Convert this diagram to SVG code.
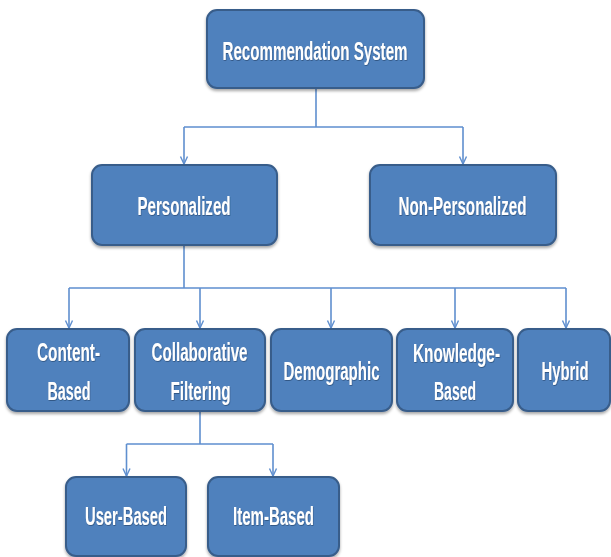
<svg xmlns="http://www.w3.org/2000/svg" width="611" height="557" viewBox="0 0 611 557">
<defs>
<style>
.box{fill:#4F81BD;stroke:#385D8A;stroke-width:2}
.lbl{font-family:"Liberation Sans",Arial,sans-serif;font-weight:bold;font-size:16px;fill:#FFFFFF;text-anchor:middle}
.con{fill:none;stroke:#5F8FCF;stroke-width:1.6}
</style>
<filter id="sh" x="-10%" y="-10%" width="120%" height="130%">
<feDropShadow dx="0" dy="2" stdDeviation="1.5" flood-color="#000" flood-opacity="0.35"/>
</filter>
<filter id="tsh" x="-10%" y="-20%" width="120%" height="150%">
<feDropShadow dx="0.5" dy="0.6" stdDeviation="0.4" flood-color="#1F3A60" flood-opacity="0.6"/>
</filter>
<marker id="arr" markerUnits="userSpaceOnUse" markerWidth="12" markerHeight="12" refX="6" refY="10" viewBox="0 0 12 12">
<polyline points="2.5,2.5 6,10 9.5,2.5" fill="none" stroke="#5F8FCF" stroke-width="1.4"/>
</marker>
</defs>
<g id="connectors">
<path class="con" d="M316,88 V127 M184,127 H463"/>
<path class="con" d="M184,127 V164" marker-end="url(#arr)"/>
<path class="con" d="M463,127 V164" marker-end="url(#arr)"/>
<path class="con" d="M184,245 V288 M69,288 H566"/>
<path class="con" d="M69,288 V328" marker-end="url(#arr)"/>
<path class="con" d="M200,288 V328" marker-end="url(#arr)"/>
<path class="con" d="M331,288 V328" marker-end="url(#arr)"/>
<path class="con" d="M455,288 V328" marker-end="url(#arr)"/>
<path class="con" d="M566,288 V328" marker-end="url(#arr)"/>
<path class="con" d="M200,411 V444 M126.5,444 H273"/>
<path class="con" d="M126.5,444 V476" marker-end="url(#arr)"/>
<path class="con" d="M273,444 V476" marker-end="url(#arr)"/>
</g>
<g id="root">
<rect class="box" filter="url(#sh)" x="207" y="10" width="217" height="78" rx="10"/>
<text class="lbl" filter="url(#tsh)" transform="translate(315,59.5) scale(1,1.66)" x="0" y="0" textLength="185" lengthAdjust="spacingAndGlyphs">Recommendation System</text>
</g>
<g id="personalized">
<rect class="box" filter="url(#sh)" x="92" y="165" width="185" height="80" rx="10"/>
<text class="lbl" filter="url(#tsh)" transform="translate(184,215) scale(1,1.66)" x="0" y="0" textLength="93" lengthAdjust="spacingAndGlyphs">Personalized</text>
</g>
<g id="non-personalized">
<rect class="box" filter="url(#sh)" x="370" y="165" width="186" height="80" rx="10"/>
<text class="lbl" filter="url(#tsh)" transform="translate(462.5,215) scale(1,1.66)" x="0" y="0" textLength="128" lengthAdjust="spacingAndGlyphs">Non-Personalized</text>
</g>
<g id="content-based">
<rect class="box" filter="url(#sh)" x="7" y="329" width="122" height="82" rx="10"/>
<text class="lbl" filter="url(#tsh)" transform="translate(68.5,361) scale(1,1.66)" x="0" y="0" textLength="63" lengthAdjust="spacingAndGlyphs">Content-</text>
<text class="lbl" filter="url(#tsh)" transform="translate(69,400) scale(1,1.66)" x="0" y="0" textLength="43" lengthAdjust="spacingAndGlyphs">Based</text>
</g>
<g id="collaborative-filtering">
<rect class="box" filter="url(#sh)" x="135" y="329" width="130" height="82" rx="10"/>
<text class="lbl" filter="url(#tsh)" transform="translate(199.5,361) scale(1,1.66)" x="0" y="0" textLength="96" lengthAdjust="spacingAndGlyphs">Collaborative</text>
<text class="lbl" filter="url(#tsh)" transform="translate(200.5,400) scale(1,1.66)" x="0" y="0" textLength="60" lengthAdjust="spacingAndGlyphs">Filtering</text>
</g>
<g id="demographic">
<rect class="box" filter="url(#sh)" x="271" y="329" width="121" height="82" rx="10"/>
<text class="lbl" filter="url(#tsh)" transform="translate(331.5,380) scale(1,1.66)" x="0" y="0" textLength="96" lengthAdjust="spacingAndGlyphs">Demographic</text>
</g>
<g id="knowledge-based">
<rect class="box" filter="url(#sh)" x="397" y="329" width="116" height="82" rx="10"/>
<text class="lbl" filter="url(#tsh)" transform="translate(456.5,362) scale(1,1.66)" x="0" y="0" textLength="87" lengthAdjust="spacingAndGlyphs">Knowledge-</text>
<text class="lbl" filter="url(#tsh)" transform="translate(455,400) scale(1,1.66)" x="0" y="0" textLength="42" lengthAdjust="spacingAndGlyphs">Based</text>
</g>
<g id="hybrid">
<rect class="box" filter="url(#sh)" x="518" y="329" width="92" height="82" rx="10"/>
<text class="lbl" filter="url(#tsh)" transform="translate(565,380) scale(1,1.66)" x="0" y="0" textLength="47" lengthAdjust="spacingAndGlyphs">Hybrid</text>
</g>
<g id="user-based">
<rect class="box" filter="url(#sh)" x="66" y="477" width="120" height="79" rx="10"/>
<text class="lbl" filter="url(#tsh)" transform="translate(126,525) scale(1,1.66)" x="0" y="0" textLength="82" lengthAdjust="spacingAndGlyphs">User-Based</text>
</g>
<g id="item-based">
<rect class="box" filter="url(#sh)" x="208" y="477" width="131" height="79" rx="10"/>
<text class="lbl" filter="url(#tsh)" transform="translate(273.5,525) scale(1,1.66)" x="0" y="0" textLength="81" lengthAdjust="spacingAndGlyphs">Item-Based</text>
</g>
</svg>
